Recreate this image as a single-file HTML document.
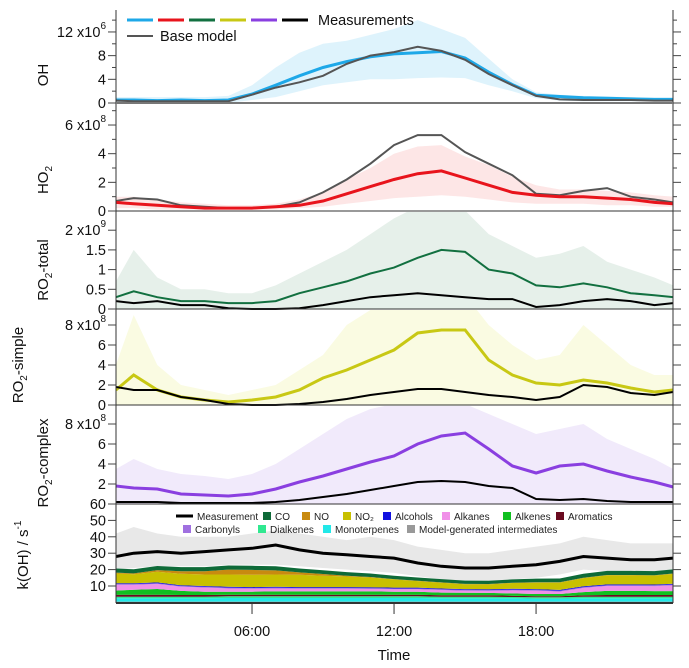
<!DOCTYPE html>
<html><head><meta charset="utf-8">
<style>
body{margin:0;background:#fff;}
svg{display:block;font-family:"Liberation Sans",Arial,sans-serif;}
</style></head>
<body>
<svg id="chart" width="689" height="668" viewBox="0 0 689 668" xmlns="http://www.w3.org/2000/svg"></svg>
<script>
// ---------- data ----------
const times = [0.25,1,2,3,4,5,6,7,8,9,10,11,12,13,14,15,16,17,18,19,20,21,22,23,23.8];
const ohMeas = [0.5,0.5,0.4,0.5,0.4,0.5,1.5,3,4.6,6,7,7.8,8.3,8.5,8.7,7.6,5.2,3.1,1.3,1.1,0.9,0.8,0.7,0.6,0.6];
const ohModel = [0.4,0.3,0.3,0.3,0.3,0.3,1.4,2.6,3.5,4.6,6.6,8,8.6,9.5,8.8,7.3,4.9,3,1.2,0.6,0.5,0.5,0.5,0.4,0.4];
const ohHi = [1,1,1,1,1,1.2,3,6,8.5,10,10.5,11.5,12.5,14,12.5,11,7.5,4,1.8,1.4,1.2,1.1,1,0.9,0.9];
const ohLo = [0,0,0,0,0,0,0.5,1,2,3,3.5,4,4,4.2,4.3,4.2,3,2,0.8,0.4,0.3,0.3,0.3,0.3,0.3];
const ho2Meas = [0.6,0.5,0.4,0.3,0.2,0.2,0.2,0.3,0.4,0.7,1.2,1.7,2.2,2.6,2.8,2.3,1.8,1.3,1.1,1.0,1.0,0.9,0.8,0.6,0.5];
const ho2Model = [0.7,0.9,0.8,0.4,0.3,0.2,0.2,0.3,0.6,1.3,2.2,3.3,4.6,5.3,5.3,4.1,3.3,2.5,1.2,1.1,1.4,1.6,1.0,0.8,0.6];
const ho2Hi = [1,1,0.8,0.6,0.5,0.4,0.4,0.5,0.8,1.3,2.2,3,4,4.5,4.6,3.8,3.2,2.4,1.8,1.5,1.5,1.4,1.3,1.1,1];
const ho2Lo = [0.2,0.2,0.1,0.1,0.1,0.1,0.1,0.1,0.2,0.3,0.5,0.7,0.9,1,1.1,1,0.8,0.6,0.5,0.5,0.5,0.4,0.4,0.3,0.3];
const rtModel = [0.3,0.45,0.3,0.2,0.2,0.15,0.15,0.2,0.4,0.55,0.7,0.9,1.05,1.3,1.5,1.45,1.0,0.9,0.6,0.55,0.65,0.55,0.4,0.35,0.3];
const rtMeas = [0.2,0.15,0.2,0.1,0.1,0.02,0.0,0.0,0.02,0.1,0.2,0.3,0.35,0.4,0.35,0.3,0.25,0.25,0.05,0.1,0.2,0.25,0.2,0.1,0.15];
const rtHi = [0.7,1.5,0.8,0.5,0.5,0.4,0.4,0.6,0.9,1.2,1.5,1.9,2.3,2.6,2.6,2.5,1.9,1.6,1.3,1.4,1.6,1.2,1.0,0.8,0.6];
const rsModel = [1.5,3,1.5,0.8,0.5,0.3,0.5,0.8,1.5,2.7,3.5,4.5,5.5,7.2,7.5,7.5,4.5,3,2.2,2,2.5,2.2,1.7,1.3,1.5];
const rsMeas = [1.8,1.5,1.5,0.8,0.5,0.1,0,0,0.1,0.3,0.6,1,1.3,1.6,1.6,1.3,1.0,0.8,0.5,0.8,2,1.8,1.2,1.0,1.3];
const rsHi = [4,9,4,2,1.5,1,1.5,2,3.5,5,8,9.5,10,11,11,11,8,6,4.5,5,8,6,4,3,3];
const rcModel = [1.8,1.6,1.5,1.0,0.9,0.8,1.0,1.5,2.2,2.8,3.5,4.2,4.8,6.0,6.8,7.1,5.5,3.8,3.1,3.8,4.0,3.3,2.7,2.2,1.7];
const rcMeas = [0.2,0.2,0.2,0.1,0.1,0.1,0.1,0.2,0.4,0.7,1.0,1.4,1.8,2.2,2.3,2.2,1.8,1.6,0.5,0.4,0.5,0.3,0.2,0.2,0.2];
const rcHi = [3.5,4.5,3.5,3,2.8,2.5,3,4,5.5,7,8.5,9.5,10,10,10,10,9,8,7,7.5,8,6.5,5.5,4.5,3.5];
const kMeas = [28,30,31,30,31,32,33,35,32,30,29,28,27,24,22,21,21,22,23,25,28,27,26,26,27];
const kHi = [42,46,42,40,40,40,42,44,42,40,38,40,38,34,32,30,30,32,34,36,40,38,36,36,36];
const kLo = [20,21,22,22,22,23,23,23,22,21,20,19,18,16,14,13,13,14,15,17,20,19,19,19,20];
const cInter = [0.5,0.5,0.5,0.5,0.5,0.5,0.5,0.5,0.5,0.5,0.5,0.5,0.5,0.5,0.5,0.5,0.5,0.5,0.5,0.5,0.5,0.5,0.5,0.5,0.5];
const cMono = [2,2,2,2,2,2.2,2.2,2.2,2.2,2.2,2.2,2.2,2.2,2.2,2,2,2,2,1.8,1.8,2,2,2,2,2];
const cDial = [1,1,1,1,1,1,1,1,1,1,1,1,1,1,1,1,1,0.8,0.8,0.8,1,1,1,1,1];
const cArom = [1.2,1.2,1.2,1,1,1,1,1,1,1,1,1,1,1,0.9,0.9,0.9,0.8,0.6,0.6,0.8,1,1,1,1];
const cAlkene = [2.5,3,3.5,2.5,2,1.8,1.8,2,2,2,2,2,1.8,1.8,1.6,1.5,1.4,1.4,1.4,1.4,2,2.5,2.5,2.4,2.4];
const cAlkane = [3.5,3,3,2.5,2.5,2,1.8,1.8,1.6,1.6,1.6,1.5,1.5,1.5,1.5,1.2,1.2,1.8,2,1.5,2.5,3,3,3,3.5];
const cCarb = [0.5,0.5,0.5,0.5,0.5,0.5,0.5,0.5,0.5,0.5,0.5,0.5,0.5,0.5,0.5,0.5,0.5,0.5,0.5,0.5,0.5,0.5,0.5,0.5,0.5];
const cAlc = [0.5,0.5,0.5,0.5,0.5,0.5,0.5,0.5,0.5,0.5,0.5,0.5,0.5,0.5,0.5,0.5,0.5,0.5,0.5,0.5,0.5,0.5,0.5,0.5,0.5];
const cNO2 = [6,5.5,6.5,7,7,7.5,7.5,7.5,7.5,7,6.5,6,5,4,3.5,3,3,3.5,4,4.5,5,5.5,5.5,5.5,6];
const cNO = [0.5,0.5,1,1.5,2,3,3,2.5,1.5,1,0.5,0.3,0.2,0.2,0.2,0.2,0.2,0.2,0.2,0.2,0.2,0.2,0.2,0.2,0.2];
const cCO = [2.5,2.5,2.5,2.5,2.5,2.5,2.5,2.5,2.4,2.3,2.2,2.1,2,2,2,2,2,2,2.2,2.3,2.5,2.5,2.5,2.5,2.5];
const timeTicks = [6,12,18];
const timeTickLabels = ["06:00","12:00","18:00"];

// ---------- helpers ----------
const NS="http://www.w3.org/2000/svg";
const svg=document.getElementById('chart');
function mk(tag,attrs,parent){const el=document.createElementNS(NS,tag);for(const k in attrs)el.setAttribute(k,attrs[k]);(parent||svg).appendChild(el);return el;}
const L=116,R=673;
function X(t){return 110+t*23.67;}
function panelY(zero,pxPerUnit){return v=>zero-v*pxPerUnit;}
const yOH=panelY(103,5.92), yHO2=panelY(211,14.33), yRT=panelY(309,39.4), yRS=panelY(405,10), yRC=panelY(504,10), yK=panelY(602.4,1.64);

const defs=mk('defs',{});
function clip(id,top,bot){const c=mk('clipPath',{id:id},defs);mk('rect',{x:L,y:top,width:R-L,height:bot-top},c);}
clip('cOH',8,104);clip('cHO2',104,212);clip('cRT',212,310);clip('cRS',310,406);clip('cRC',406,504);clip('cK',504,603);

function linePath(arr,y){return arr.map((v,i)=>(i?'L':'M')+X(times[i]).toFixed(1)+','+y(v).toFixed(1)).join('');}
function bandPath(hi,lo,y){let d=hi.map((v,i)=>(i?'L':'M')+X(times[i]).toFixed(1)+','+y(v).toFixed(1)).join('');for(let i=lo.length-1;i>=0;i--)d+='L'+X(times[i]).toFixed(1)+','+y(lo[i]).toFixed(1);return d+'Z';}
const zeros=times.map(()=>0);
let e;

// ---------- panel OH ----------
const gOH=mk('g',{'clip-path':'url(#cOH)'});


e=mk('path',{d:bandPath(ohHi,ohLo,yOH),fill:'#d6f0fb',opacity:0.8},gOH);


e=mk('path',{d:linePath(ohMeas,yOH),fill:'none',stroke:'#1ea8e8','stroke-width':3},gOH);


e=mk('path',{d:linePath(ohModel,yOH),fill:'none',stroke:'#555','stroke-width':2},gOH);



// ---------- panel HO2 ----------
const gHO2=mk('g',{'clip-path':'url(#cHO2)'});


e=mk('path',{d:bandPath(ho2Hi,ho2Lo,yHO2),fill:'#fde0e0',opacity:0.8},gHO2);


e=mk('path',{d:linePath(ho2Model,yHO2),fill:'none',stroke:'#555','stroke-width':2},gHO2);


e=mk('path',{d:linePath(ho2Meas,yHO2),fill:'none',stroke:'#e8141c','stroke-width':3},gHO2);



// ---------- panel RO2 total ----------
const gRT=mk('g',{'clip-path':'url(#cRT)'});


e=mk('path',{d:bandPath(rtHi,zeros,yRT),fill:'#e6f0ea'},gRT);


e=mk('path',{d:linePath(rtModel,yRT),fill:'none',stroke:'#127040','stroke-width':2},gRT);


e=mk('path',{d:linePath(rtMeas,yRT),fill:'none',stroke:'#000','stroke-width':2},gRT);



// ---------- panel RO2 simple ----------
const gRS=mk('g',{'clip-path':'url(#cRS)'});


e=mk('path',{d:bandPath(rsHi,zeros,yRS),fill:'#fafbe2'},gRS);


e=mk('path',{d:linePath(rsModel,yRS),fill:'none',stroke:'#c8c814','stroke-width':3},gRS);


e=mk('path',{d:linePath(rsMeas,yRS),fill:'none',stroke:'#000','stroke-width':2},gRS);



// ---------- panel RO2 complex ----------
const gRC=mk('g',{'clip-path':'url(#cRC)'});


e=mk('path',{d:bandPath(rcHi,zeros,yRC),fill:'#f1eafb'},gRC);


e=mk('path',{d:linePath(rcModel,yRC),fill:'none',stroke:'#8a3fe0','stroke-width':3},gRC);


e=mk('path',{d:linePath(rcMeas,yRC),fill:'none',stroke:'#000','stroke-width':2},gRC);



// ---------- panel kOH ----------
const gK=mk('g',{'clip-path':'url(#cK)'});


e=mk('path',{d:bandPath(kHi,kLo,yK),fill:'#e8e8e8'},gK);


const comps=[[cInter,'#999999','intermediates'],[cMono,'#22e8e8','monoterpenes'],[cDial,'#30e890','dialkenes'],[cArom,'#6a0a20','aromatics'],[cAlkene,'#10c020','alkenes'],[cAlkane,'#f090e8','alkanes'],[cCarb,'#a070e0','carbonyls'],[cAlc,'#1010e0','alcohols'],[cNO2,'#c8c000','no2'],[cNO,'#c88a10','no'],[cCO,'#0e6a38','co']];
let base=zeros.slice();
comps.forEach(c=>{
  const top=base.map((b,i)=>b+c[0][i]);
  const p=mk('path',{d:bandPath(top,base,yK),fill:c[1]},gK);
  
  
  base=top;
});
e=mk('path',{d:linePath(kMeas,yK),fill:'none',stroke:'#000','stroke-width':3},gK);



// ---------- axes ----------
const ax=mk('g',{stroke:'#333','stroke-width':1,fill:'none'});


mk('line',{x1:L,y1:10,x2:L,y2:603},ax);
mk('line',{x1:R,y1:10,x2:R,y2:603},ax);
[103,211,309,405,504,603].forEach(y=>mk('line',{x1:L,y1:y,x2:R,y2:y,stroke:y===103?'#777':'#333','stroke-width':(y===103||y===603)?2:1},ax));

function yTicks(name,yfn,vals,labels,minor){
  const g=mk('g',{});
  
  
  vals.forEach((v,i)=>{
    const y=yfn(v);
    mk('line',{x1:L-8,y1:y,x2:L,y2:y,stroke:'#444'},g);
    mk('line',{x1:R,y1:y,x2:R+8,y2:y,stroke:'#444'},g);
    const t=mk('text',{x:L-10,y:y+5,'text-anchor':'end','font-size':14.5,fill:'#111'},g);
    t.innerHTML=labels[i];
  });
  minor.forEach(v=>{const y=yfn(v);mk('line',{x1:L-4,y1:y,x2:L,y2:y,stroke:'#444'},g);mk('line',{x1:R,y1:y,x2:R+4,y2:y,stroke:'#444'},g);});
}
yTicks('oh-y-axis',yOH,[0,4,8,12],['0','4','8','12 x10<tspan dy="-8" font-size="10">6</tspan>'],[2,6,10,14]);
yTicks('ho2-y-axis',yHO2,[0,2,4,6],['0','2','4','6 x10<tspan dy="-8" font-size="10">8</tspan>'],[1,3,5,7]);
yTicks('ro2-total-y-axis',yRT,[0,0.5,1,1.5,2],['0','0.5','1','1.5','2 x10<tspan dy="-8" font-size="10">9</tspan>'],[]);
yTicks('ro2-simple-y-axis',yRS,[0,2,4,6,8],['0','2','4','6','8 x10<tspan dy="-8" font-size="10">8</tspan>'],[]);
yTicks('ro2-complex-y-axis',yRC,[2,4,6,8],['2','4','6','8 x10<tspan dy="-8" font-size="10">8</tspan>'],[]);
yTicks('koh-y-axis',yK,[10,20,30,40,50,60],['10','20','30','40','50','60'],[]);

const xa=mk('g',{});


timeTicks.forEach((t,i)=>{
  mk('line',{x1:X(t),y1:603,x2:X(t),y2:614,stroke:'#333'},xa);
  const tx=mk('text',{x:X(t),y:636,'text-anchor':'middle','font-size':14.5,fill:'#111'},xa);
  tx.textContent=timeTickLabels[i];
});

// axis titles
function ytitle(name,x,y,html){
  const t=mk('text',{x:x,y:y,'text-anchor':'middle','font-size':15,fill:'#111',transform:'rotate(-90 '+x+' '+y+')'});
  
  
  t.innerHTML=html;
}
ytitle('oh-y-title',48,75,'OH');
ytitle('ho2-y-title',48,180,'HO<tspan dy="4" font-size="10">2</tspan>');
ytitle('ro2-total-y-title',48,270,'RO<tspan dy="4" font-size="10">2</tspan><tspan dy="-4">-total</tspan>');
ytitle('ro2-simple-y-title',23,365,'RO<tspan dy="4" font-size="10">2</tspan><tspan dy="-4">-simple</tspan>');
ytitle('ro2-complex-y-title',48,463,'RO<tspan dy="4" font-size="10">2</tspan><tspan dy="-4">-complex</tspan>');
ytitle('koh-y-title',28,555,'k(OH) / s<tspan dy="-7" font-size="10">-1</tspan>');
const xt=mk('text',{x:394,y:660,'text-anchor':'middle','font-size':15,fill:'#111'});


xt.textContent='Time';

// top legend
const lg=mk('g',{});


['#1ea8e8','#e8141c','#127040','#c8c814','#8a3fe0','#000'].forEach((c,i)=>{
  const ln=mk('line',{x1:127+i*31,y1:20,x2:153+i*31,y2:20,stroke:c,'stroke-width':3},lg);
  
  
});
let lt=mk('text',{x:318,y:25,'font-size':14.5,fill:'#111'},lg);
lt.textContent='Measurements';
mk('line',{x1:127,y1:36,x2:153,y2:36,stroke:'#555','stroke-width':2},lg);
lt=mk('text',{x:160,y:41,'font-size':14.5,fill:'#111'},lg);
lt.textContent='Base model';

// kOH legend
const kl=mk('g',{'font-size':10,fill:'#222'});


mk('line',{x1:176,y1:516,x2:193,y2:516,stroke:'#000','stroke-width':3},kl);
lt=mk('text',{x:197,y:520},kl);
lt.textContent='Measurement';
const row1=[['CO','#0e6a38',263],['NO','#c88a10',302],['NO\u2082','#c8c000',343],['Alcohols','#1010e0',383],['Alkanes','#f090e8',442],['Alkenes','#10c020',503],['Aromatics','#6a0a20',556]];
const row2=[['Carbonyls','#a070e0',183],['Dialkenes','#30e890',258],['Monoterpenes','#22e8e8',323],['Model-generated intermediates','#999999',407]];
function legItem(it,y){
  const r=mk('rect',{x:it[2],y:y-8,width:8,height:8,fill:it[1]},kl);
  
  
  const t=mk('text',{x:it[2]+12,y:y},kl);
  t.textContent=it[0];
}
row1.forEach(it=>legItem(it,520));
row2.forEach(it=>legItem(it,533));
</script>
</body></html>
